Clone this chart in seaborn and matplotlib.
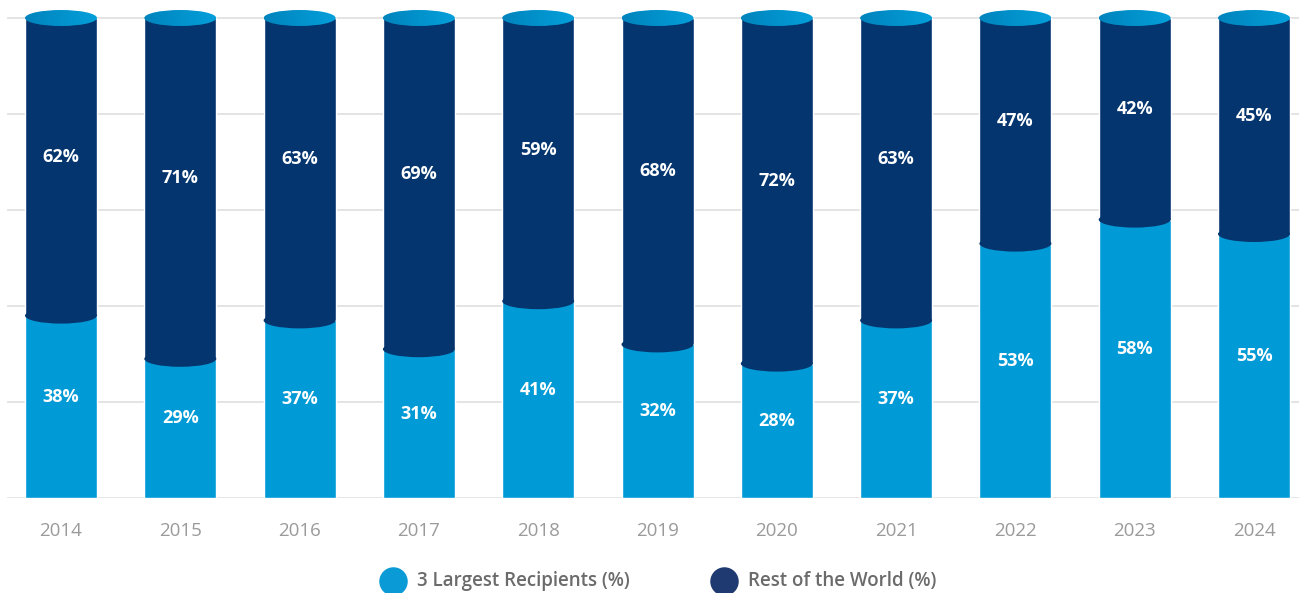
import numpy as np
import pandas as pd
import matplotlib
matplotlib.use("Agg")
import matplotlib.pyplot as plt
from matplotlib.patches import Ellipse
from matplotlib.lines import Line2D
from matplotlib.colors import LinearSegmentedColormap
import seaborn as sns

# Share of funds per year (%)
years = ["2014", "2015", "2016", "2017", "2018", "2019", "2020", "2021", "2022", "2023", "2024"]
largest_three = [38, 29, 37, 31, 41, 32, 28, 37, 53, 58, 55]
rest_of_world = [62, 71, 63, 69, 59, 68, 72, 63, 47, 42, 45]
series_names = ["3 Largest Recipients (%)", "Rest of the World (%)"]

LIGHT = "#009ad6"
DARK = "#04356e"
CAP_LEFT = "#0084bd"
CAP_RIGHT = "#049fda"

sns.set_theme(style="white")
plt.rcParams["font.family"] = ["Open Sans", "DejaVu Sans"]

df = pd.DataFrame({
    "year": years,
    "largest": largest_three,
    "rest": rest_of_world,
})
df["total"] = df["largest"] + df["rest"]

W, H = 1299, 593
fig = plt.figure(figsize=(W / 100, H / 100), dpi=100)
# axes box in pixels: left 7, right 1299, bottom y=498, top y=5
px_per_unit = 4.8
top_val = 100 + 13 / px_per_unit
ax = fig.add_axes([7 / W, (H - 498) / H, (W - 7) / W, (498 - 5) / H])

bar_w = 72 / 119.3
sns.barplot(data=df, x="year", y="total", color=DARK, saturation=1,
            width=bar_w, ax=ax, zorder=2)
sns.barplot(data=df, x="year", y="largest", color=LIGHT, saturation=1,
            width=bar_w, ax=ax, zorder=3)

ell_h = 16 / px_per_unit
cap_cmap = LinearSegmentedColormap.from_list("cap", [CAP_LEFT, CAP_RIGHT])
grad = np.linspace(0, 1, 64).reshape(1, -1)

for i, (lv, rv) in enumerate(zip(largest_three, rest_of_world)):
    total = lv + rv
    # rounded underside of the upper segment
    ax.add_patch(Ellipse((i, lv), bar_w, ell_h, facecolor=DARK,
                         edgecolor="none", zorder=4))
    # gradient lid on top of the cylinder
    lid = Ellipse((i, total), bar_w, ell_h, facecolor="none",
                  edgecolor="none", zorder=5)
    ax.add_patch(lid)
    im = ax.imshow(grad, cmap=cap_cmap, aspect="auto", interpolation="bilinear",
                   extent=[i - bar_w / 2, i + bar_w / 2,
                           total - ell_h / 2, total + ell_h / 2],
                   zorder=5)
    im.set_clip_path(lid)

    off = 2.1
    ax.text(i, lv / 2 + off, f"{lv}%", ha="center", va="center",
            color="white", fontsize=13, fontweight="bold", zorder=6)
    ax.text(i, lv + rv / 2 + off, f"{rv}%", ha="center", va="center",
            color="white", fontsize=13, fontweight="bold", zorder=6)

# horizontal grid
for g in [20, 40, 60, 80, 100]:
    ax.axhline(g, color="#dcdcdc", lw=1.1, zorder=0)
ax.axhline(0, color="#e4e4e4", lw=2.0, zorder=1)

ax.set_xlim(-54 / 119.3, 10 + 45 / 119.3)
ax.set_ylim(0, top_val)
ax.set_xlabel("")
ax.set_ylabel("")
ax.set_yticks([])
ax.tick_params(axis="x", length=0, pad=17.5, labelsize=13.5, labelcolor="#9a9a9a")
for s in ax.spines.values():
    s.set_visible(False)

# legend row
leg_y = (H - 581) / H
for cx, tx, col, name in [(393, 417, "#0a9ad6", series_names[0]),
                          (724, 748, "#1f3a70", series_names[1])]:
    fig.add_artist(Line2D([cx / W], [leg_y], marker="o", markersize=19.5,
                          color=col, linestyle="none", transform=fig.transFigure))
    fig.text(tx / W, leg_y, name, ha="left", va="center", fontsize=13.5,
             fontweight="semibold", color="#6b6b6b")

fig.savefig("out.png", dpi=100)
